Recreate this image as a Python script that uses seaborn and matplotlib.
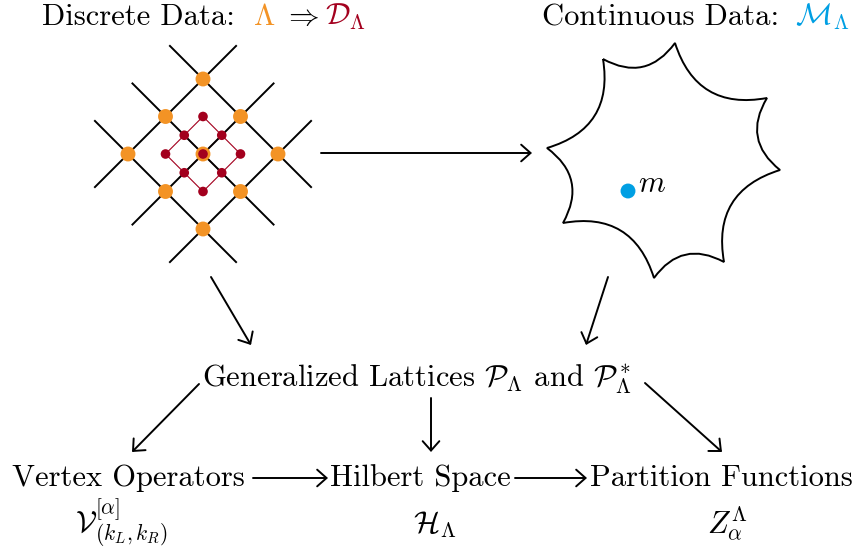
import numpy as np
import seaborn as sns
import matplotlib.pyplot as plt
from matplotlib.path import Path
from matplotlib.patches import PathPatch, FancyArrowPatch

# cores
laranja = '#F39325'
vermelho = '#A3001E'
azul = '#009FE3'

# rede discreta: indices (a, b) dos nos
rede_a = [-1, -1, -1, 0, 0, 0, 1, 1, 1]
rede_b = [-1, 0, 1, -1, 0, 1, -1, 0, 1]
linhas_idx = [-1, 0, 1]

# vertices (bicos) da regiao continua
bicos_x = [603, 675, 767, 780, 724, 654, 563, 547]
bicos_y = [59, 43, 98, 170, 262, 278, 223, 148]
ponto_m = (628, 191)

# setas do diagrama (inicio, fim)
setas = [((321, 153), (532, 153)),
         ((211, 277), (251, 345)),
         ((608, 277), (586, 345)),
         ((199, 384), (132, 452)),
         ((431, 398), (431, 452)),
         ((645, 383), (722, 452)),
         ((253, 478), (328, 478)),
         ((515, 478), (587, 478))]

# textos: (x, y, texto, cor)
textos = [(42, 25, 'Discrete Data:', 'black'),
          (253, 25, r'$\Lambda$', laranja),
          (283, 25, r'$\Rightarrow$', 'black'),
          (325, 25, r'$\mathcal{D}_\Lambda$', vermelho),
          (542, 25, 'Continuous Data:', 'black'),
          (795, 25, r'$\mathcal{M}_\Lambda$', azul),
          (202, 387, r'Generalized Lattices $\mathcal{P}_\Lambda$ and $\mathcal{P}^*_\Lambda$', 'black'),
          (12, 486, 'Vertex Operators', 'black'),
          (330, 486, 'Hilbert Space', 'black'),
          (590, 486, 'Partition Functions', 'black'),
          (75, 533, r'$\mathcal{V}^{[\alpha]}_{(k_L,k_R)}$', 'black'),
          (413, 533, r'$\mathcal{H}_\Lambda$', 'black'),
          (707, 533, r'$Z^\Lambda_\alpha$', 'black'),
          (638, 192, r'$m$', 'black')]

sns.set_style('white')
plt.rcParams['font.family'] = ['cmr10', 'DejaVu Serif']
plt.rcParams['mathtext.fontset'] = 'cm'
plt.rcParams['axes.unicode_minus'] = False

fig = plt.figure(figsize=(8.61, 5.51), dpi=100)
ax = fig.add_axes([0, 0, 1, 1])

# rede preta e vermelha
cx, cy, esp = 203, 154, 37.5
ext = 0.9


def para_px(a, b, passo):
    a = np.asarray(a, dtype=float)
    b = np.asarray(b, dtype=float)
    return cx + passo * (a - b), cy + passo * (a + b)


for k in linhas_idx:
    t = np.array([-1 - ext, 1 + ext])
    x, y = para_px([k, k], t, esp)
    ax.plot(x, y, color='black', lw=1.4, zorder=2, solid_capstyle='butt')
    x, y = para_px(t, [k, k], esp)
    ax.plot(x, y, color='black', lw=1.4, zorder=2, solid_capstyle='butt')
    t2 = np.array([-1, 1])
    x, y = para_px([k, k], t2, esp / 2)
    ax.plot(x, y, color=vermelho, lw=0.8, zorder=1)
    x, y = para_px(t2, [k, k], esp / 2)
    ax.plot(x, y, color=vermelho, lw=0.8, zorder=1)

ox, oy = para_px(rede_a, rede_b, esp)
sns.scatterplot(x=ox, y=oy, s=115, color=laranja, edgecolor='none', ax=ax, zorder=3)
rx, ry = para_px(rede_a, rede_b, esp / 2)
sns.scatterplot(x=rx, y=ry, s=48, color=vermelho, edgecolor='none', ax=ax, zorder=4)

# regiao continua com arcos concavos
P = np.column_stack([bicos_x, bicos_y]).astype(float)
centro = P.mean(axis=0)
verts = [P[0]]
codes = [Path.MOVETO]
for i in range(len(P)):
    p, q = P[i], P[(i + 1) % len(P)]
    d = q - p
    n = np.array([-d[1], d[0]]) / np.hypot(*d)
    meio = (p + q) / 2
    if np.dot(n, centro - meio) < 0:
        n = -n
    verts += [meio + 0.44 * np.hypot(*d) * n, q]
    codes += [Path.CURVE3, Path.CURVE3]
ax.add_patch(PathPatch(Path(verts, codes), fill=False, lw=1.4, color='black'))
sns.scatterplot(x=[ponto_m[0]], y=[ponto_m[1]], s=115, color=azul, edgecolor='none', ax=ax, zorder=3)

for ini, fim in setas:
    ax.add_patch(FancyArrowPatch(ini, fim, arrowstyle='->,head_length=0.45,head_width=0.4',
                                 mutation_scale=15, lw=1.4, color='black',
                                 shrinkA=0, shrinkB=0))

for x, y, s, c in textos:
    ax.text(x, y, s, color=c, fontsize=22, ha='left', va='baseline')

ax.set_xlim(0, 861)
ax.set_ylim(551, 0)
ax.axis('off')
fig.savefig('out.png', dpi=100)
